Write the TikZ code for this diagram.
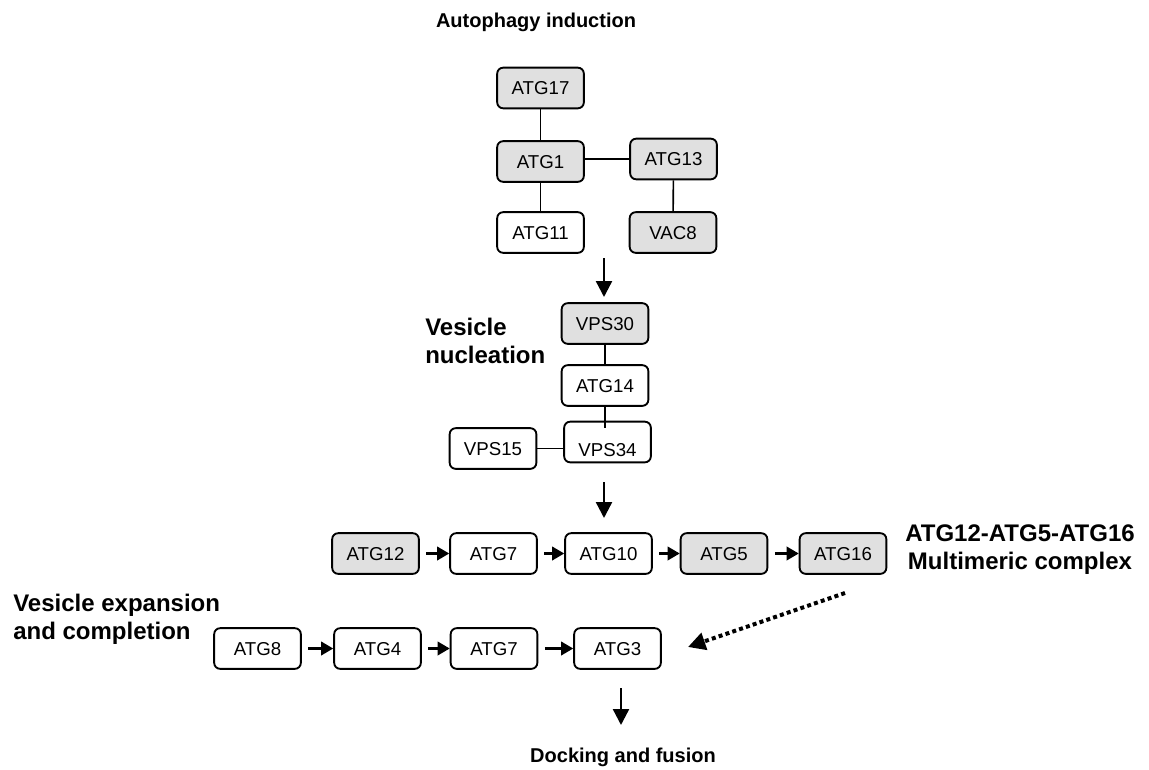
\documentclass[tikz,border=0pt]{standalone}
\usepackage{fontspec}
\setmainfont{Liberation Sans}
\usepackage{xcolor}
\usepackage{tikz}
\usetikzlibrary{arrows.meta}
\definecolor{cellgray}{RGB}{224,224,224}

\begin{document}
\begin{tikzpicture}[x=0.75pt, y=-0.75pt,
  box/.style={draw, rounded corners=4.5pt, line width=1.4pt, minimum width=65pt,
    minimum height=30.5pt, inner sep=0pt, font=\fontsize{14}{16}\selectfont,
    text height=10pt, text depth=0pt},
  link/.style={line width=1.2pt},
  flow/.style={line width=1.8pt, -{Triangle[length=12pt,width=12pt]}},
  hop/.style={line width=1.8pt, -{Triangle[length=9pt,width=10pt]}},
  stage/.style={font=\fontsize{18}{21}\selectfont\bfseries, inner sep=0pt},
  title/.style={font=\fontsize{15}{18}\selectfont\bfseries, inner sep=0pt}]
\useasboundingbox (0,0) rectangle (1149,770);
%%%%% Autophagy induction %%%%%
\node[title] (tind) at (536,22) {Autophagy induction};
\node[box, fill=cellgray] (atg17) at (540.5,88) {ATG17};
\node[box, fill=cellgray] (atg1) at (540.5,161.5) {ATG1};
\node[box] (atg11) at (540.5,232.5) {ATG11};
\node[box, fill=cellgray] (atg13) at (673.5,159) {ATG13};
\node[box, fill=cellgray] (vac8) at (673,232.5) {VAC8};
\draw[link] (atg17) -- (atg1);
\draw[link] (atg1) -- (atg11);
\draw[link] (atg1.east |- atg13) -- (atg13.west);
\draw[link] (atg13) -- (vac8);
\coordinate (in1) at (604,258);
\coordinate (out1) at (604,297);
\draw[flow] (in1) -- (out1);
%%%%% Vesicle nucleation %%%%%
\node[stage, anchor=west, align=left] (tnuc) at (425,341) {Vesicle\\nucleation};
\node[box, fill=cellgray] (vps30) at (605,323.5) {VPS30};
\node[box] (atg14) at (605,385.5) {ATG14};
\node[box, text height=21pt] (vps34) at (607.5,442) {VPS34};
\node[box] (vps15) at (493,448.5) {VPS15};
\coordinate (v34in) at (605,428);
\draw[link] (vps30) -- (atg14);
\draw[link] (atg14) -- (v34in);
\draw[link] (vps15.east) -- (vps15.east -| vps34.west);
\coordinate (in2) at (604,482);
\coordinate (out2) at (604,518);
\draw[flow] (in2) -- (out2);
%%%%% ATG12 conjugation %%%%%
\foreach \name/\txt/\x/\fcol in {atg12/ATG12/375.5/cellgray, atg7/ATG7/493.5/white,
    atg10/ATG10/608.5/white, atg5/ATG5/724/cellgray, atg16/ATG16/843/cellgray}{
  \node[box, fill=\fcol] (\name) at (\x,553.5) {\txt};
}
\foreach \a/\b in {atg12/atg7, atg7/atg10, atg10/atg5, atg5/atg16}{
  \draw[hop] ([xshift=5pt]\a.east) -- (\b.west);
}
\node[stage, align=center] (tcplx) at (1020,550) {ATG12-ATG5-ATG16\\Multimeric complex};
%%%%% Vesicle expansion %%%%%
\node[stage, anchor=west, align=left] (texp) at (13,619) {Vesicle expansion\\and completion};
\foreach \name/\txt/\x in {atg8/ATG8/257.5, atg4/ATG4/377.5, atg7e/ATG7/494, atg3/ATG3/617.5}{
  \node[box] (\name) at (\x,648.5) {\txt};
}
\foreach \a/\b in {atg8/atg4, atg4/atg7e, atg7e/atg3}{
  \draw[hop] ([xshift=5pt]\a.east) -- (\b.west);
}
\coordinate (cin) at (845,593);
\coordinate (cout) at (688,647);
\draw[line width=3pt, dash pattern=on 3pt off 2.4pt,
  -{Triangle[length=13pt,width=13pt]}] (cin) -- (cout);
%%%%% Docking %%%%%
\coordinate (in3) at (621,688);
\coordinate (out3) at (621,725);
\draw[flow] (in3) -- (out3);
\node[title] (tdock) at (623,757) {Docking and fusion};
\end{tikzpicture}
\end{document}
